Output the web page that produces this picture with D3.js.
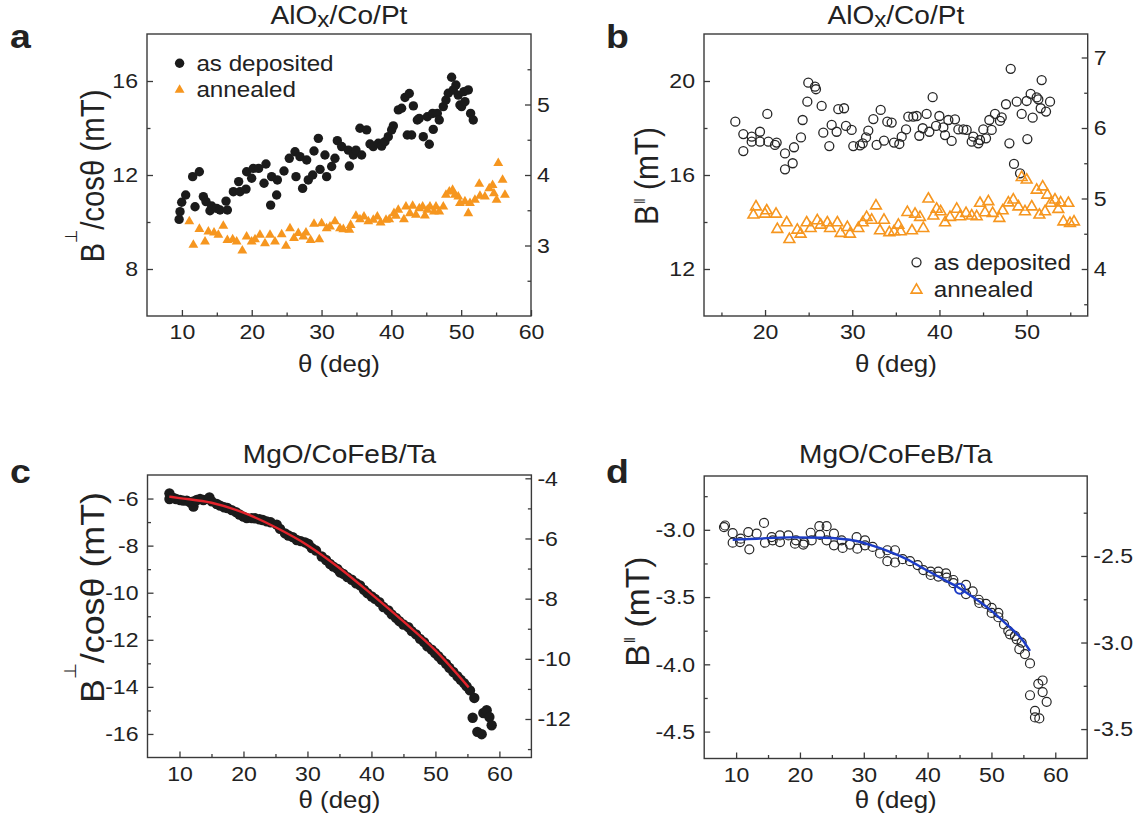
<!DOCTYPE html>
<html>
<head>
<meta charset="utf-8">
<script src="https://cdn.jsdelivr.net/npm/d3@7"></script>
<style>
  body { margin: 0; background: #fff; }
  svg { display: block; }
  text { font-family: "Liberation Sans", Arial, Helvetica, sans-serif; fill: #222; }
</style>
</head>
<body>
<svg id="fig" width="1143" height="823"></svg>
<script>
// ---- measured field vs. angle: [theta (deg), B (mT)] ----
const aDeposited = [[9.6,10.11],[9.73,10.44],[9.97,10.84],[10.54,11.15],[11.54,11.93],[11.88,10.65],[12.5,12.14],[13.07,11.08],[13.45,10.87],[14.02,10.48],[14.26,10.68],[14.98,10.58],[15.46,10.51],[16.32,10.89],[16.51,10.51],[17.37,11.29],[18.13,11.72],[18.32,11.29],[19.18,11.4],[19.27,12.14],[19.99,11.86],[20.23,12.28],[20.99,12.28],[21.76,11.65],[22.04,12.47],[22.71,10.72],[22.85,11.93],[23.57,11.15],[23.67,11.79],[24.62,12.17],[25.38,12.71],[26.2,12.99],[26.34,11.93],[26.91,12.78],[27.29,11.43],[27.87,12.64],[28.1,11.79],[28.73,12.0],[28.92,13.02],[29.54,13.56],[29.78,12.24],[30.49,12.85],[30.73,11.93],[31.45,12.36],[31.92,12.71],[32.26,13.46],[32.88,13.21],[33.83,13.06],[33.98,12.38],[34.55,12.85],[34.93,13.06],[35.5,13.99],[35.74,12.85],[36.46,13.92],[36.94,13.32],[37.41,13.21],[38.13,13.35],[38.61,13.23],[39.08,13.42],[39.56,13.63],[40.04,13.92],[40.28,14.09],[41.0,14.77],[41.47,14.84],[41.95,15.3],[42.28,13.7],[42.57,15.47],[42.9,13.7],[43.15,14.94],[43.72,14.34],[44.0,14.41],[44.57,13.63],[45.15,14.48],[45.43,13.31],[45.91,14.62],[46.0,13.94],[46.58,14.62],[46.86,14.34],[47.44,14.91],[47.82,15.19],[48.15,15.48],[48.63,16.16],[48.87,15.62],[49.25,15.83],[49.58,15.4],[49.82,14.98],[50.06,14.91],[50.4,15.55],[50.54,15.12],[51.02,15.62],[51.35,14.62],[51.73,14.34]];

const aAnnealed = [[11.06,10.02],[11.64,9.02],[12.5,9.7],[13.31,9.16],[13.79,9.59],[14.6,9.55],[15.22,9.45],[15.93,9.83],[16.51,9.23],[17.27,9.26],[17.84,9.16],[18.65,8.78],[19.27,9.38],[19.99,9.16],[20.47,9.26],[21.18,9.45],[21.9,9.09],[22.62,9.45],[23.33,9.16],[24.29,9.47],[24.91,8.98],[25.48,9.73],[26.05,9.31],[26.67,9.52],[27.39,9.38],[27.77,9.55],[28.44,9.23],[28.92,9.92],[29.68,9.26],[30.01,9.94],[30.73,9.73],[31.21,9.8],[31.92,10.02],[32.64,9.73],[33.12,9.69],[33.98,9.66],[34.17,9.87],[34.93,10.26],[35.5,10.11],[36.08,10.23],[36.7,10.02],[37.41,10.09],[37.99,10.23],[38.46,9.97],[39.23,10.09],[39.7,10.11],[40.37,10.37],[40.66,10.26],[40.99,10.51],[41.8,10.11],[42.09,10.65],[42.66,10.37],[43.05,10.68],[43.52,10.3],[44.0,10.58],[44.48,10.65],[44.81,10.27],[45.15,10.51],[45.53,10.65],[46.1,10.44],[46.39,10.65],[46.86,10.44],[47.44,10.65],[47.82,11.15],[48.3,11.29],[48.77,11.36],[49.11,11.15],[49.58,11.08],[49.82,10.8],[50.54,10.87],[51.02,10.37],[51.26,10.8],[51.97,10.94],[52.59,11.62],[52.69,11.11],[53.4,11.08],[54.02,11.43],[54.5,11.57],[54.69,11.22],[55.07,10.94],[55.31,12.5],[55.93,11.79],[56.27,11.15]];

const bDeposited = [[16.59,18.27],[17.51,17.74],[17.51,17.02],[18.47,17.63],[18.47,17.42],[19.42,17.84],[19.42,17.42],[20.26,18.6],[20.38,17.42],[21.14,17.28],[21.33,17.38],[22.29,16.92],[22.29,16.24],[23.17,16.5],[23.32,17.18],[24.12,17.6],[24.31,18.34],[24.85,19.12],[24.96,19.93],[25.73,19.76],[25.84,19.65],[26.49,18.94],[26.68,17.8],[27.37,17.23],[27.64,18.13],[28.21,17.84],[28.4,18.8],[29.06,18.84],[29.28,18.09],[29.93,17.92],[30.12,17.23],[30.89,17.26],[31.2,17.35],[31.58,17.6],[31.84,17.89],[32.42,18.38],[32.8,17.28],[33.26,18.77],[33.64,17.46],[34.02,18.27],[34.52,18.23],[34.79,17.38],[35.4,17.32],[35.67,17.63],[36.17,17.94],[36.43,18.48],[37.0,18.48],[37.39,18.51],[37.69,17.67],[38.08,17.99],[38.53,18.6],[38.84,17.84],[39.22,19.31],[39.61,18.09],[39.99,18.51],[40.45,18.03],[40.64,17.7],[41.02,18.34],[41.4,17.45],[41.78,18.37],[42.17,17.94],[42.74,17.94],[43.12,17.92],[43.7,17.42],[43.89,17.63],[44.46,17.35],[44.65,17.49],[45.03,17.94],[45.34,17.56],[45.72,18.34],[45.99,17.92],[46.37,18.6],[46.94,18.3],[47.14,18.45],[47.63,19.01],[48.02,17.35],[48.17,20.52],[48.55,16.47],[48.86,19.12],[49.24,16.07],[49.43,18.6],[50.0,19.15],[50.08,17.53],[50.46,19.45],[50.69,18.44],[51.15,19.3],[51.34,19.22],[51.61,18.84],[51.72,20.04],[52.22,18.7],[52.68,19.12]];

const bAnnealed = [[18.66,14.3],[18.96,14.65],[19.99,14.34],[20.19,14.48],[21.26,14.34],[21.41,13.69],[22.48,13.97],[22.79,13.26],[23.7,13.66],[24.08,13.49],[24.77,13.97],[25.23,13.73],[25.99,14.06],[26.38,13.87],[27.14,13.97],[27.45,13.73],[28.29,13.97],[28.67,13.52],[29.44,13.77],[29.74,13.49],[30.7,13.73],[31.2,13.97],[31.65,14.2],[32.23,14.08],[32.72,14.69],[33.18,13.63],[33.64,14.08],[34.25,13.55],[34.79,13.59],[35.29,13.87],[35.55,13.59],[36.32,14.41],[36.85,13.63],[37.2,14.34],[37.77,14.2],[38.15,13.73],[38.73,14.98],[39.3,14.26],[39.68,14.55],[40.14,14.44],[40.64,13.97],[41.21,14.2],[41.98,14.55],[42.36,14.23],[43.05,14.37],[43.7,14.26],[44.27,14.23],[44.65,14.8],[45.22,14.4],[45.61,14.87],[46.1,14.37],[46.87,14.16],[47.25,14.48],[47.9,14.82],[48.47,14.94],[49.05,14.65],[49.43,15.9],[49.81,14.44],[50.0,15.79],[50.58,14.65],[51.15,15.36],[51.46,14.3],[51.84,15.5],[52.11,14.44],[52.37,15.15],[52.76,14.8],[53.25,14.94],[53.63,14.54],[53.9,14.82],[54.21,14.01],[54.78,14.8],[54.97,13.94],[55.43,14.01]];

const cPoints = [[8.43,-5.78],[8.43,-6.02],[9.05,-5.98],[9.47,-6.02],[10.1,-6.06],[10.6,-6.09],[11.14,-6.09],[11.66,-6.16],[12.18,-6.34],[12.18,-6.12],[12.7,-6.06],[13.22,-6.02],[13.74,-6.06],[14.68,-5.95],[15.04,-6.12],[15.82,-6.23],[16.34,-6.3],[16.97,-6.37],[17.49,-6.4],[18.17,-6.49],[18.84,-6.58],[19.37,-6.68],[19.99,-6.77],[20.51,-6.83],[21.29,-6.83],[21.81,-6.84],[22.49,-6.88],[23.01,-6.91],[23.64,-6.97],[24.26,-7.01],[25.2,-7.11],[25.72,-7.29],[26.5,-7.48],[27.02,-7.57],[27.7,-7.64],[28.32,-7.76],[28.95,-7.81],[29.63,-7.86],[30.15,-7.93],[30.67,-8.1],[31.34,-8.21],[32.23,-8.46],[32.91,-8.61],[33.53,-8.78],[34.05,-8.89],[34.68,-8.99],[35.09,-9.13],[35.61,-9.2],[36.24,-9.34],[36.92,-9.45],[37.59,-9.6],[38.22,-9.69],[38.84,-9.88],[39.37,-10.02],[40.04,-10.16],[40.56,-10.26],[41.24,-10.4],[41.87,-10.61],[42.65,-10.75],[43.17,-10.92],[43.84,-11.07],[44.36,-11.21],[44.99,-11.35],[45.77,-11.46],[46.29,-11.63],[46.97,-11.77],[47.59,-11.96],[48.22,-12.1],[48.74,-12.28],[49.42,-12.42],[49.94,-12.56],[50.46,-12.7],[50.98,-12.85],[51.66,-13.02],[52.18,-13.19],[52.8,-13.37],[53.43,-13.55],[53.95,-13.7],[54.47,-13.84],[54.88,-13.98],[55.4,-14.15],[56.08,-14.47],[55.82,-15.31],[56.55,-15.91],[57.23,-16.01],[57.49,-15.11],[58.01,-14.99],[58.43,-15.28],[58.79,-15.63]];

const cFit = [[8.4,-5.92],[10,-5.98],[15,-6.18],[20,-6.6],[25,-7.22],[30,-7.98],[35,-8.95],[40,-10.06],[45,-11.22],[50,-12.45],[55.2,-14.02]];

const dPoints = [[8.1,-2.98],[8.26,-2.968],[9.46,-3.025],[9.46,-3.096],[10.61,-3.091],[10.71,-3.066],[11.91,-3.017],[12.07,-3.145],[13.22,-3.029],[14.37,-2.949],[14.52,-3.096],[15.57,-3.054],[15.73,-3.078],[16.87,-3.042],[16.87,-3.091],[18.18,-3.042],[19.22,-3.103],[19.38,-3.078],[20.53,-3.11],[20.69,-3.096],[21.68,-3.022],[21.84,-3.078],[23.04,-2.973],[23.14,-3.037],[24.18,-2.973],[24.18,-3.078],[25.33,-3.029],[25.33,-3.115],[26.53,-3.078],[26.69,-3.135],[27.84,-3.11],[28.88,-3.054],[28.99,-3.14],[30.19,-3.078],[30.19,-3.115],[31.39,-3.127],[32.54,-3.176],[33.69,-3.152],[33.69,-3.233],[34.89,-3.152],[34.89,-3.243],[36.09,-3.218],[37.24,-3.233],[38.44,-3.262],[39.33,-3.299],[40.48,-3.311],[40.48,-3.336],[41.68,-3.311],[41.68,-3.348],[42.88,-3.324],[42.98,-3.355],[44.03,-3.373],[44.03,-3.397],[46.01,-3.409],[46.01,-3.478],[47.06,-3.458],[48.0,-3.52],[48.1,-3.544],[49.14,-3.551],[50.03,-3.581],[50.03,-3.618],[51.08,-3.618],[51.08,-3.65],[51.97,-3.703],[52.64,-3.752],[52.91,-3.777],[53.69,-3.789],[53.95,-3.814],[54.73,-3.838],[54.37,-3.887],[55.25,-3.924],[56.04,-3.993],[56.04,-4.23],[56.82,-4.346],[56.82,-4.395],[57.34,-4.145],[57.5,-4.402],[58.02,-4.12],[58.02,-4.206],[58.65,-4.279]];

const dFit = [[9.46,-3.074],[13.22,-3.066],[18.44,-3.056],[23.66,-3.059],[26.27,-3.066],[28.88,-3.083],[31.5,-3.12],[34.11,-3.164],[36.72,-3.218],[39.33,-3.287],[41.94,-3.355],[44.55,-3.421],[47.16,-3.502],[49.77,-3.593],[52.38,-3.703],[54.99,-3.826],[56.04,-3.9]];

const dMarked = [45.07, -3.439];

// ---- tick values ----
const xTicksWide = [10, 20, 30, 40, 50, 60], xMinorWide = [15, 25, 35, 45, 55];
const xTicksB = [20, 30, 40, 50], xMinorB = [15, 25, 35, 45, 55];
const aLeftTicks = [8, 12, 16], aLeftMinor = [10, 14];
const aRightTicks = [3, 4, 5], aRightMinor = [2.5, 3.5, 4.5, 5.5];
const bLeftTicks = [12, 16, 20], bLeftMinor = [14, 18];
const bRightTicks = [4, 5, 6, 7], bRightMinor = [3.5, 4.5, 5.5, 6.5];
const cLeftTicks = [-16, -14, -12, -10, -8, -6], cLeftMinor = [-15, -13, -11, -9, -7];
const cRightTicks = [-12, -10, -8, -6, -4], cRightMinor = [-13, -11, -9, -7, -5];
const dLeftTicks = [-4.5, -4.0, -3.5, -3.0], dLeftMinor = [-4.25, -3.75, -3.25, -2.75];
const dRightTicks = [-3.5, -3.0, -2.5], dRightMinor = [-3.25, -2.75, -2.25];

// ---- styling ----
const SX = 1.1;                 // lettering is drawn slightly wide
const INK = "#222", FRAME = "#3a3a3a";
const ORANGE = "#f6961f", RED = "#e3232b", BLUE = "#1c3cc6";

const svg = d3.select("#fig");

function widen(sel) {
  sel.each(function () {
    const t = d3.select(this);
    const x = +t.attr("x") || 0, y = +t.attr("y") || 0;
    t.attr("x", null).attr("y", null)
     .attr("transform", `translate(${x},${y}) scale(${SX},1)`);
  });
}

function label(g, x, y, size, anchor, weight) {
  return g.append("text")
    .attr("transform", `translate(${x},${y}) scale(${SX},1)`)
    .attr("text-anchor", anchor)
    .style("font-size", size + "px")
    .style("font-weight", weight || 400);
}

function axis(g, gen, tx, ty, withText) {
  const a = g.append("g").attr("transform", `translate(${tx},${ty})`).call(gen);
  a.select(".domain").remove();
  a.selectAll("line").attr("stroke", FRAME).attr("stroke-width", 1.3);
  if (withText) {
    a.selectAll("text").attr("fill", INK).style("font-size", "21px")
      .style("font-family", '"Liberation Sans", Arial, sans-serif');
    widen(a.selectAll("text"));
  } else {
    a.selectAll("text").remove();
  }
  return a;
}

const intFmt = d => String(d);
const oneDec = d => d.toFixed(1);

function panel(p) {
  const g = svg.append("g");
  const [L, T, R, B] = p.box;
  const x = d3.scaleLinear().domain(p.xDom).range([L, R]);
  const y = d3.scaleLinear().domain(p.yDom).range([B, T]);
  const y2 = d3.scaleLinear().domain(p.y2Dom).range([B, T]);

  // ticks (all pointing into the frame)
  axis(g, d3.axisBottom(x).tickValues(p.xTicks).tickSize(-6).tickPadding(8.5).tickFormat(intFmt), 0, B, true);
  axis(g, d3.axisBottom(x).tickValues(p.xMinor).tickSize(-3.5), 0, B, false);
  axis(g, d3.axisLeft(y).tickValues(p.yTicks).tickSize(-6).tickPadding(9).tickFormat(p.fmt), L, 0, true);
  axis(g, d3.axisLeft(y).tickValues(p.yMinor).tickSize(-3.5), L, 0, false);
  axis(g, d3.axisRight(y2).tickValues(p.y2Ticks).tickSize(-6).tickPadding(6).tickFormat(p.fmt), R, 0, true);
  axis(g, d3.axisRight(y2).tickValues(p.y2Minor).tickSize(-3.5), R, 0, false);

  g.append("rect").attr("x", L).attr("y", T).attr("width", R - L).attr("height", B - T)
    .attr("fill", "none").attr("stroke", FRAME).attr("stroke-width", 1.4);

  // panel letter
  label(g, p.letterPos[0], p.letterPos[1], 34, "start", 700).text(p.letter);

  // title
  const t = label(g, (L + R) / 2, p.titleY, 25.5, "middle");
  p.title(t);

  // x title
  const xt = label(g, (L + R) / 2, p.xTitleY, 23.5, "middle");
  xt.text("θ (deg)");

  // y title (rotated)
  const yt = g.append("text")
    .attr("transform", `translate(${p.yTitle[0]},${p.yTitle[1]}) scale(${SX},1) rotate(-90)`)
    .attr("text-anchor", "middle")
    .style("font-size", "30px")
    .attr("textLength", p.yTitle[2])
    .attr("lengthAdjust", "spacingAndGlyphs");
  p.yLabel(yt);

  return { g, x, y };
}

function perpLabel(t) {
  t.append("tspan").text("B");
  t.append("tspan").style("font-size", "15px").attr("dy", -25).text("⊥");
  t.append("tspan").attr("dy", 25).text("/cosθ (mT)");
}
function parLabel(t) {
  t.append("tspan").text("B");
  t.append("tspan").style("font-size", "14px").attr("dy", -12).attr("dx", 1).text("‖");
  t.append("tspan").attr("dy", 12).text(" (mT)");
}
function titleAlOx(t) {
  t.append("tspan").text("AlO");
  t.append("tspan").style("font-size", "22px").attr("dy", 3).text("x");
  t.append("tspan").attr("dy", -3).text("/Co/Pt");
}
function titleMgO(t) { t.text("MgO/CoFeB/Ta"); }

const tri = s => d3.symbol().type(d3.symbolTriangle).size(s)();

// ---------- a ----------
{
  const { g, x, y } = panel({
    box: [147, 34, 531, 316], xDom: [5, 60], yDom: [6, 18], y2Dom: [2, 6],
    xTicks: xTicksWide, xMinor: xMinorWide,
    yTicks: aLeftTicks, yMinor: aLeftMinor, y2Ticks: aRightTicks, y2Minor: aRightMinor,
    fmt: intFmt, letter: "a", letterPos: [10, 48], titleY: 24, title: titleAlOx,
    xTitleY: 372, yTitle: [104, 176, 173], yLabel: perpLabel
  });
  g.append("g").selectAll("circle").data(aDeposited).join("circle")
    .attr("cx", d => x(d[0])).attr("cy", d => y(d[1])).attr("r", 4.7).attr("fill", "#1b1b1b");
  g.append("g").selectAll("path").data(aAnnealed).join("path")
    .attr("d", tri(42)).attr("transform", d => `translate(${x(d[0])},${y(d[1])})`).attr("fill", ORANGE);
  // legend
  g.append("circle").attr("cx", 179.6).attr("cy", 63.3).attr("r", 4.7).attr("fill", "#1b1b1b");
  g.append("path").attr("d", tri(42)).attr("transform", "translate(179.6,90)").attr("fill", ORANGE);
  label(g, 196.4, 71, 22, "start").text("as deposited");
  label(g, 196.4, 97, 22, "start").text("annealed");
}

// ---------- b ----------
{
  const { g, x, y } = panel({
    box: [704, 34, 1087.7, 316], xDom: [13, 57], yDom: [10, 22], y2Dom: [10 / 3, 22 / 3],
    xTicks: xTicksB, xMinor: xMinorB,
    yTicks: bLeftTicks, yMinor: bLeftMinor, y2Ticks: bRightTicks, y2Minor: bRightMinor,
    fmt: intFmt, letter: "b", letterPos: [606, 48], titleY: 24, title: titleAlOx,
    xTitleY: 372, yTitle: [657.7, 176, 98], yLabel: parLabel
  });
  g.append("g").selectAll("circle").data(bDeposited).join("circle")
    .attr("cx", d => x(d[0])).attr("cy", d => y(d[1])).attr("r", 4.5)
    .attr("fill", "none").attr("stroke", "#262626").attr("stroke-width", 1.3);
  g.append("g").selectAll("path").data(bAnnealed).join("path")
    .attr("d", tri(50)).attr("transform", d => `translate(${x(d[0])},${y(d[1])})`)
    .attr("fill", "none").attr("stroke", ORANGE).attr("stroke-width", 1.6);
  g.append("circle").attr("cx", 916.5).attr("cy", 262.3).attr("r", 4.5)
    .attr("fill", "none").attr("stroke", "#262626").attr("stroke-width", 1.3);
  g.append("path").attr("d", tri(50)).attr("transform", "translate(916.5,290)")
    .attr("fill", "none").attr("stroke", ORANGE).attr("stroke-width", 1.6);
  label(g, 933.7, 270, 22, "start").text("as deposited");
  label(g, 933.7, 297, 22, "start").text("annealed");
}

// ---------- c ----------
{
  const { g, x, y } = panel({
    box: [147.5, 475, 531.4, 757.5], xDom: [5, 65], yDom: [-17, -5], y2Dom: [-13.28, -3.89],
    xTicks: xTicksWide, xMinor: xMinorWide,
    yTicks: cLeftTicks, yMinor: cLeftMinor, y2Ticks: cRightTicks, y2Minor: cRightMinor,
    fmt: intFmt, letter: "c", letterPos: [10, 483], titleY: 463, title: titleMgO,
    xTitleY: 808, yTitle: [103.6, 597.5, 211], yLabel: perpLabel
  });
  g.append("g").selectAll("circle").data(cPoints).join("circle")
    .attr("cx", d => x(d[0])).attr("cy", d => y(d[1])).attr("r", 5.2).attr("fill", "#1b1b1b");
  const line = d3.line().x(d => x(d[0])).y(d => y(d[1])).curve(d3.curveMonotoneX);
  g.append("path").attr("d", line(cFit)).attr("fill", "none").attr("stroke", RED).attr("stroke-width", 2.4);
}

// ---------- d ----------
{
  const { g, x, y } = panel({
    box: [704.2, 476, 1087.2, 758.5], xDom: [5, 65], yDom: [-4.7, -2.6], y2Dom: [-3.67, -2.038],
    xTicks: xTicksWide, xMinor: xMinorWide,
    yTicks: dLeftTicks, yMinor: dLeftMinor, y2Ticks: dRightTicks, y2Minor: dRightMinor,
    fmt: oneDec, letter: "d", letterPos: [606, 483], titleY: 463, title: titleMgO,
    xTitleY: 808, yTitle: [648.6, 611.7, 110], yLabel: parLabel
  });
  g.append("g").selectAll("circle").data(dPoints).join("circle")
    .attr("cx", d => x(d[0])).attr("cy", d => y(d[1])).attr("r", 4.5)
    .attr("fill", "none").attr("stroke", "#262626").attr("stroke-width", 1.2);
  const line = d3.line().x(d => x(d[0])).y(d => y(d[1])).curve(d3.curveMonotoneX);
  g.append("path").attr("d", line(dFit)).attr("fill", "none").attr("stroke", BLUE).attr("stroke-width", 2.4);
  g.append("circle").attr("cx", x(dMarked[0])).attr("cy", y(dMarked[1])).attr("r", 5)
    .attr("fill", "none").attr("stroke", BLUE).attr("stroke-width", 2);
}
</script>
</body>
</html>
